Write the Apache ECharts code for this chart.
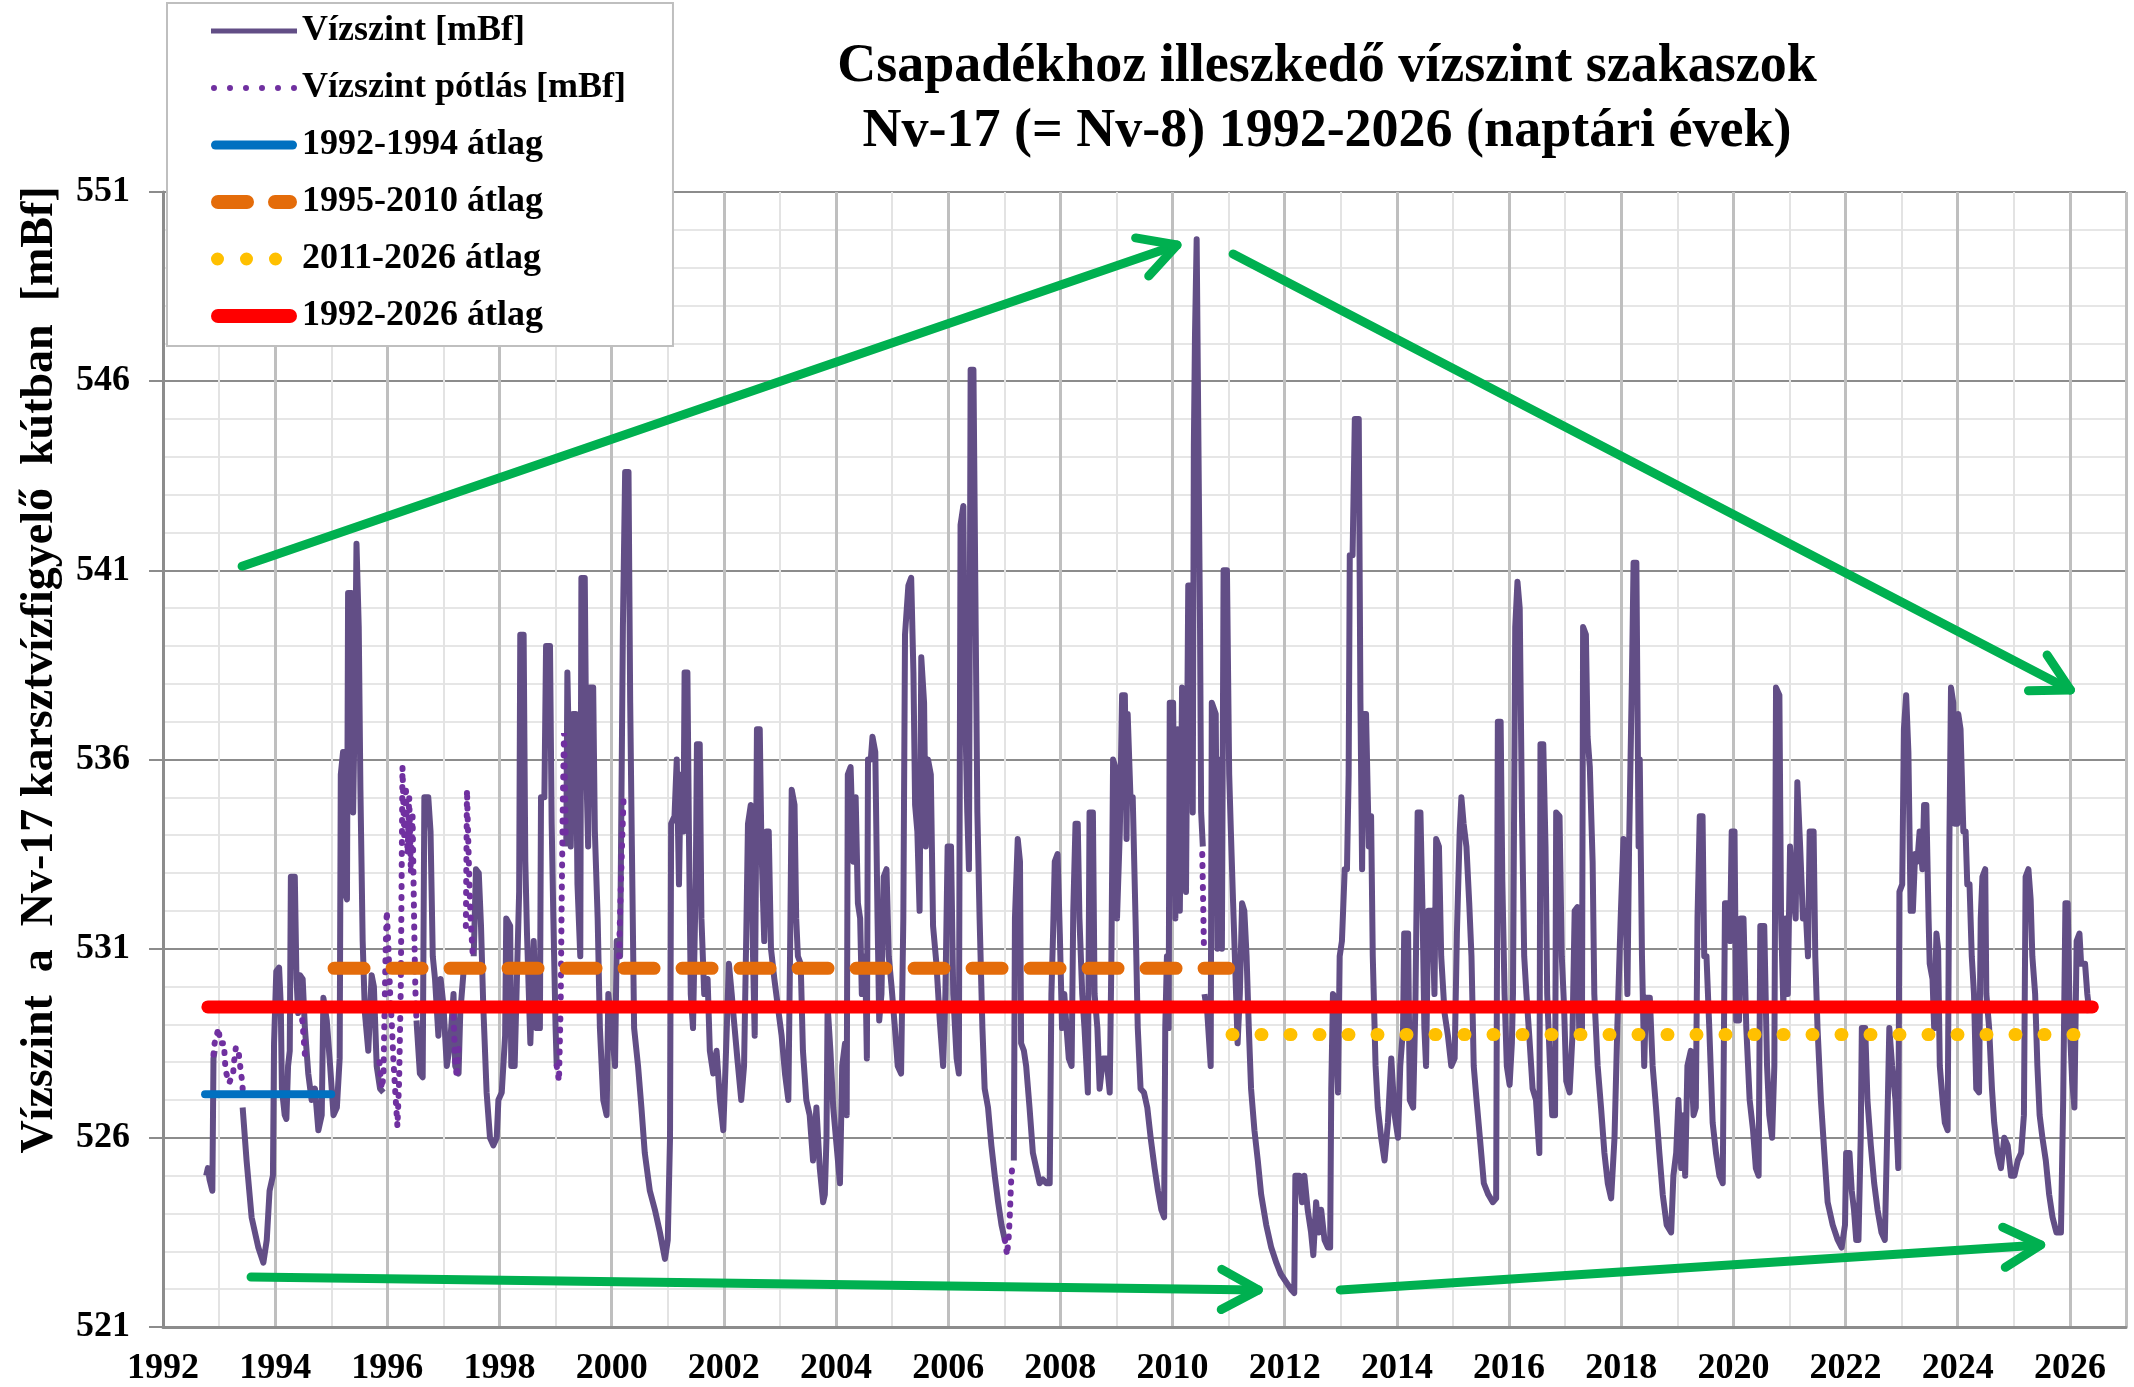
<!DOCTYPE html>
<html>
<head>
<meta charset="utf-8">
<title>Nv-17 vízszint</title>
<script src="https://cdn.jsdelivr.net/npm/echarts@6/dist/echarts.min.js"></script>
<style>
  html, body { margin: 0; padding: 0; background: #fff; }
  #chart { width: 2134px; height: 1387px; }
</style>
</head>
<body>
<div id="chart"></div>
<script>
// mért vízszint [év, mBf] -- '-' = szakadás (ott a pótlás van)
var vizszint = [
  [1992.77, 525.0], [1992.80, 525.2], [1992.83, 524.9], [1992.88, 524.6], [1992.90, 528.1], [1992.92, 528.3], [1992.95, '-'],
  [1993.42, 526.8], [1993.49, 525.4], [1993.58, 523.9], [1993.70, 523.1], [1993.79, 522.7], [1993.85, 523.3], [1993.90, 524.6],
  [1993.96, 525.0], [1993.98, 528.5], [1994.02, 530.4], [1994.07, 530.5], [1994.10, 529.5], [1994.12, 527.3], [1994.17, 526.6],
  [1994.20, 526.5], [1994.23, 527.9], [1994.26, 528.3], [1994.28, 532.9], [1994.35, 532.9], [1994.38, 530.2], [1994.41, 529.3],
  [1994.44, 530.3], [1994.49, 530.2], [1994.53, 528.9], [1994.59, 527.7], [1994.65, 527.0], [1994.71, 527.3], [1994.77, 526.2],
  [1994.83, 526.6], [1994.86, 529.7], [1994.92, 529.1], [1994.98, 527.9], [1995.04, 526.6], [1995.10, 526.8], [1995.15, 528.1],
  [1995.17, 535.6], [1995.21, 536.2], [1995.24, 532.5], [1995.28, 532.3], [1995.30, 540.4], [1995.36, 540.4], [1995.39, 534.6],
  [1995.42, 537.5], [1995.45, 541.7], [1995.49, 539.5], [1995.52, 535.2], [1995.56, 531.2], [1995.60, 529.3], [1995.66, 528.3],
  [1995.72, 530.3], [1995.76, 530.0], [1995.81, 527.9], [1995.87, 527.3], [1995.93, 527.2], [1995.95, '-'],
  [1996.52, 529.1], [1996.58, 527.7], [1996.63, 527.6], [1996.66, 535.0], [1996.73, 535.0], [1996.77, 534.1], [1996.81, 530.8],
  [1996.85, 530.2], [1996.91, 528.7], [1996.95, 530.2], [1997.00, 529.5], [1997.06, 527.9], [1997.12, 528.5], [1997.18, 529.8],
  [1997.21, 527.9], [1997.27, 527.7], [1997.30, 529.3], [1997.37, 530.6], [1997.40, '-'],
  [1997.54, 530.8], [1997.58, 533.1], [1997.63, 533.0], [1997.67, 531.6], [1997.71, 529.5], [1997.77, 527.2], [1997.83, 526.0],
  [1997.89, 525.8], [1997.95, 526.0], [1997.98, 527.0], [1998.04, 527.2], [1998.10, 528.7], [1998.12, 531.8], [1998.19, 531.6],
  [1998.21, 527.9], [1998.27, 527.9], [1998.31, 530.2], [1998.35, 532.5], [1998.37, 539.3], [1998.43, 539.3], [1998.46, 533.3],
  [1998.49, 531.4], [1998.55, 528.5], [1998.61, 531.2], [1998.66, 528.9], [1998.72, 528.9], [1998.74, 535.0], [1998.80, 535.0],
  [1998.83, 539.0], [1998.90, 539.0], [1998.93, 534.3], [1998.96, 531.8], [1999.00, 528.9], [1999.02, 527.9], [1999.05, '-'],
  [1999.19, 533.7], [1999.21, 538.3], [1999.24, 538.3], [1999.27, 533.7], [1999.31, 537.2], [1999.36, 537.2], [1999.39, 532.7],
  [1999.44, 530.8], [1999.46, 540.8], [1999.52, 540.8], [1999.55, 535.6], [1999.58, 533.7], [1999.61, 537.9], [1999.67, 537.9],
  [1999.70, 534.1], [1999.75, 531.8], [1999.79, 528.9], [1999.85, 527.0], [1999.91, 526.6], [1999.94, 529.8], [2000.00, 528.9],
  [2000.06, 527.9], [2000.09, 531.2], [2000.15, 530.8], [2000.20, 539.5], [2000.24, 543.6], [2000.30, 543.6], [2000.33, 537.5],
  [2000.36, 533.7], [2000.40, 528.9], [2000.47, 527.9], [2000.53, 526.8], [2000.59, 525.6], [2000.68, 524.6], [2000.77, 524.1],
  [2000.86, 523.5], [2000.95, 522.8], [2001.00, 523.3], [2001.04, 526.0], [2001.06, 534.3], [2001.12, 534.5], [2001.16, 536.0],
  [2001.20, 532.7], [2001.23, 535.6], [2001.28, 534.1], [2001.30, 538.3], [2001.35, 538.3], [2001.38, 533.7], [2001.41, 529.8],
  [2001.45, 528.9], [2001.50, 532.9], [2001.52, 536.4], [2001.57, 536.4], [2001.60, 531.8], [2001.65, 529.8], [2001.71, 530.2],
  [2001.75, 528.3], [2001.81, 527.7], [2001.87, 528.3], [2001.93, 527.0], [2001.99, 526.2], [2002.03, 527.9], [2002.09, 530.6],
  [2002.14, 529.8], [2002.18, 529.1], [2002.24, 528.1], [2002.31, 527.0], [2002.36, 527.9], [2002.40, 531.4], [2002.43, 534.3],
  [2002.48, 534.8], [2002.52, 530.8], [2002.55, 528.7], [2002.59, 536.8], [2002.64, 536.8], [2002.67, 533.7], [2002.72, 531.2],
  [2002.76, 534.1], [2002.80, 534.1], [2002.84, 531.0], [2002.90, 530.2], [2002.96, 529.5], [2003.03, 528.7], [2003.09, 527.7],
  [2003.15, 527.0], [2003.18, 530.8], [2003.21, 535.2], [2003.26, 534.8], [2003.29, 531.8], [2003.32, 530.8], [2003.37, 530.6],
  [2003.41, 528.3], [2003.47, 527.0], [2003.53, 526.6], [2003.59, 525.4], [2003.65, 526.8], [2003.71, 525.2], [2003.77, 524.3],
  [2003.80, 524.5], [2003.83, 526.0], [2003.85, 529.5], [2003.90, 528.3], [2003.95, 526.8], [2004.01, 525.8], [2004.07, 524.8],
  [2004.11, 527.9], [2004.16, 528.5], [2004.19, 526.6], [2004.21, 535.6], [2004.26, 535.8], [2004.31, 533.3], [2004.35, 535.0],
  [2004.39, 532.2], [2004.43, 531.8], [2004.46, 529.8], [2004.52, 530.8], [2004.55, 528.1], [2004.57, 536.0], [2004.62, 536.0],
  [2004.65, 536.6], [2004.70, 536.2], [2004.74, 531.8], [2004.77, 529.1], [2004.81, 529.8], [2004.85, 532.9], [2004.90, 533.1],
  [2004.94, 530.8], [2004.99, 530.0], [2005.05, 528.9], [2005.10, 527.9], [2005.16, 527.7], [2005.20, 531.8], [2005.23, 539.3],
  [2005.29, 540.6], [2005.34, 540.8], [2005.38, 538.3], [2005.41, 534.8], [2005.45, 534.1], [2005.49, 532.0], [2005.52, 538.7],
  [2005.57, 537.5], [2005.60, 533.7], [2005.64, 536.0], [2005.69, 535.6], [2005.73, 531.6], [2005.79, 530.6], [2005.85, 529.1],
  [2005.91, 527.9], [2005.95, 529.8], [2005.99, 533.7], [2006.05, 533.7], [2006.09, 529.8], [2006.15, 528.1], [2006.19, 527.7],
  [2006.22, 542.2], [2006.27, 542.7], [2006.30, 537.5], [2006.34, 534.6], [2006.37, 533.1], [2006.40, 546.3], [2006.45, 546.3],
  [2006.49, 539.5], [2006.52, 534.6], [2006.56, 531.8], [2006.61, 528.9], [2006.65, 527.3], [2006.71, 526.8], [2006.77, 525.8],
  [2006.83, 525.0], [2006.89, 524.3], [2006.95, 523.7], [2007.01, 523.3], [2007.05, '-'],
  [2007.17, 525.4], [2007.19, 531.8], [2007.24, 533.9], [2007.28, 533.3], [2007.30, 528.5], [2007.35, 528.3], [2007.39, 527.9],
  [2007.45, 526.8], [2007.51, 525.6], [2007.57, 525.2], [2007.63, 524.8], [2007.69, 524.9], [2007.75, 524.8], [2007.81, 524.8],
  [2007.84, 529.8], [2007.87, 531.4], [2007.90, 533.3], [2007.95, 533.5], [2007.99, 531.4], [2008.03, 528.9], [2008.07, 529.8],
  [2008.11, 528.9], [2008.15, 528.1], [2008.20, 527.9], [2008.23, 532.0], [2008.27, 534.3], [2008.31, 534.3], [2008.34, 531.8],
  [2008.39, 529.8], [2008.43, 528.9], [2008.49, 527.2], [2008.52, 534.6], [2008.58, 534.6], [2008.61, 529.8], [2008.66, 528.9],
  [2008.70, 527.3], [2008.76, 528.1], [2008.82, 528.1], [2008.88, 527.2], [2008.91, 530.8], [2008.94, 536.0], [2008.98, 535.8],
  [2009.01, 531.8], [2009.06, 534.1], [2009.10, 537.7], [2009.15, 537.7], [2009.18, 533.9], [2009.20, 537.2], [2009.25, 535.0],
  [2009.29, 535.0], [2009.34, 531.8], [2009.38, 528.9], [2009.43, 527.3], [2009.49, 527.2], [2009.55, 526.8], [2009.61, 526.0],
  [2009.68, 525.2], [2009.74, 524.6], [2009.80, 524.1], [2009.85, 523.9], [2009.87, 528.9], [2009.90, 530.8], [2009.93, 528.9],
  [2009.95, 537.5], [2010.01, 537.5], [2010.05, 531.8], [2010.09, 536.8], [2010.13, 532.0], [2010.17, 537.9], [2010.21, 537.5],
  [2010.24, 532.5], [2010.28, 540.6], [2010.33, 540.6], [2010.36, 534.6], [2010.38, 544.3], [2010.40, 547.2], [2010.43, 549.75],
  [2010.46, 549.75], [2010.49, 539.5], [2010.51, 534.6], [2010.54, 533.7], [2010.55, '-'],
  [2010.57, 529.8], [2010.62, 529.3], [2010.68, 527.9], [2010.70, 537.5], [2010.77, 537.2], [2010.80, 531.0], [2010.85, 536.0],
  [2010.88, 531.0], [2010.91, 541.0], [2010.97, 541.0], [2011.01, 535.6], [2011.04, 534.1], [2011.08, 532.2], [2011.12, 530.4],
  [2011.16, 528.5], [2011.20, 529.8], [2011.24, 532.2], [2011.28, 532.0], [2011.32, 530.8], [2011.36, 528.9], [2011.40, 527.3],
  [2011.46, 526.2], [2011.52, 525.4], [2011.58, 524.5], [2011.67, 523.7], [2011.76, 523.1], [2011.85, 522.7], [2011.93, 522.4],
  [2012.02, 522.2], [2012.11, 522.0], [2012.17, 521.9], [2012.19, 525.0], [2012.26, 525.0], [2012.31, 524.3], [2012.35, 525.0],
  [2012.41, 524.1], [2012.47, 523.5], [2012.51, 522.9], [2012.56, 524.3], [2012.61, 523.5], [2012.65, 524.1], [2012.71, 523.3],
  [2012.77, 523.1], [2012.81, 523.1], [2012.83, 527.3], [2012.86, 529.8], [2012.90, 529.7], [2012.95, 527.2], [2012.98, 530.8],
  [2013.02, 531.2], [2013.07, 533.1], [2013.11, 533.1], [2013.14, 535.6], [2013.16, 541.4], [2013.21, 541.4], [2013.25, 545.0],
  [2013.32, 545.0], [2013.35, 537.5], [2013.38, 533.1], [2013.40, 537.2], [2013.45, 537.2], [2013.50, 533.7], [2013.54, 534.5],
  [2013.57, 530.8], [2013.62, 527.9], [2013.66, 526.8], [2013.72, 526.0], [2013.78, 525.4], [2013.84, 526.4], [2013.90, 528.1],
  [2013.96, 526.6], [2014.02, 526.0], [2014.06, 527.9], [2014.11, 528.9], [2014.13, 531.4], [2014.20, 531.4], [2014.23, 527.0],
  [2014.29, 526.8], [2014.33, 529.5], [2014.37, 534.6], [2014.42, 534.6], [2014.46, 531.8], [2014.49, 528.9], [2014.52, 527.9],
  [2014.56, 532.0], [2014.63, 532.0], [2014.67, 529.8], [2014.70, 533.9], [2014.75, 533.7], [2014.79, 530.8], [2014.85, 529.3],
  [2014.91, 528.7], [2014.97, 527.9], [2015.03, 528.1], [2015.07, 531.4], [2015.12, 534.1], [2015.15, 535.0], [2015.19, 534.3],
  [2015.24, 533.7], [2015.29, 532.2], [2015.33, 530.8], [2015.37, 527.9], [2015.42, 527.0], [2015.48, 526.0], [2015.55, 524.8],
  [2015.63, 524.5], [2015.71, 524.3], [2015.77, 524.4], [2015.80, 537.0], [2015.85, 537.0], [2015.88, 532.8], [2015.92, 529.8],
  [2015.96, 527.9], [2016.01, 527.4], [2016.05, 528.5], [2016.07, 529.8], [2016.11, 539.5], [2016.15, 540.7], [2016.19, 540.0],
  [2016.23, 534.6], [2016.27, 530.8], [2016.31, 529.8], [2016.36, 528.7], [2016.42, 527.3], [2016.48, 527.0], [2016.54, 525.6],
  [2016.56, 536.4], [2016.61, 536.4], [2016.65, 533.7], [2016.68, 529.8], [2016.73, 527.9], [2016.77, 526.6], [2016.82, 526.6],
  [2016.84, 534.6], [2016.90, 534.5], [2016.94, 530.8], [2016.98, 529.5], [2017.02, 527.5], [2017.08, 527.2], [2017.13, 528.7],
  [2017.17, 532.0], [2017.22, 532.1], [2017.25, 528.9], [2017.30, 528.9], [2017.32, 539.5], [2017.37, 539.3], [2017.40, 536.6],
  [2017.44, 535.8], [2017.49, 533.3], [2017.52, 529.8], [2017.58, 527.9], [2017.64, 526.8], [2017.70, 525.6], [2017.76, 524.8],
  [2017.82, 524.4], [2017.88, 526.0], [2017.93, 528.9], [2017.99, 531.8], [2018.04, 533.9], [2018.07, 532.7], [2018.11, 529.8],
  [2018.14, 533.7], [2018.19, 538.1], [2018.22, 541.2], [2018.27, 541.2], [2018.31, 533.7], [2018.33, 536.0], [2018.37, 530.8],
  [2018.41, 527.9], [2018.44, 529.7], [2018.51, 529.7], [2018.56, 527.9], [2018.62, 526.8], [2018.68, 525.6], [2018.74, 524.5],
  [2018.81, 523.7], [2018.89, 523.5], [2018.93, 525.0], [2018.98, 525.6], [2019.02, 527.0], [2019.07, 525.2], [2019.11, 526.6],
  [2019.14, 525.0], [2019.18, 527.9], [2019.24, 528.3], [2019.29, 526.6], [2019.33, 526.8], [2019.36, 531.8], [2019.40, 534.5],
  [2019.45, 534.5], [2019.48, 530.8], [2019.52, 530.8], [2019.57, 528.9], [2019.63, 526.4], [2019.69, 525.6], [2019.75, 525.0],
  [2019.81, 524.8], [2019.85, 532.2], [2019.90, 532.2], [2019.94, 531.2], [2019.97, 534.1], [2020.02, 534.1], [2020.05, 529.1],
  [2020.10, 529.1], [2020.13, 531.8], [2020.18, 531.8], [2020.23, 528.9], [2020.29, 527.0], [2020.35, 526.2], [2020.40, 525.2],
  [2020.45, 525.0], [2020.48, 531.6], [2020.55, 531.6], [2020.60, 527.9], [2020.64, 526.6], [2020.69, 526.0], [2020.73, 527.9],
  [2020.76, 537.9], [2020.82, 537.7], [2020.85, 531.8], [2020.89, 529.5], [2020.93, 531.8], [2020.97, 529.8], [2021.01, 533.7],
  [2021.06, 532.5], [2021.11, 531.8], [2021.14, 535.4], [2021.19, 533.7], [2021.24, 531.8], [2021.29, 532.0], [2021.33, 530.8],
  [2021.36, 534.1], [2021.43, 534.1], [2021.46, 530.8], [2021.50, 528.9], [2021.56, 527.0], [2021.63, 525.4], [2021.68, 524.3],
  [2021.77, 523.7], [2021.86, 523.3], [2021.93, 523.1], [2021.99, 523.7], [2022.01, 525.6], [2022.07, 525.6], [2022.11, 524.6],
  [2022.15, 524.1], [2022.19, 523.3], [2022.23, 523.3], [2022.27, 526.0], [2022.29, 528.9], [2022.35, 528.9], [2022.39, 527.0],
  [2022.45, 525.8], [2022.51, 524.8], [2022.57, 524.1], [2022.64, 523.5], [2022.70, 523.3], [2022.74, 526.0], [2022.78, 528.9],
  [2022.83, 527.9], [2022.89, 527.0], [2022.94, 525.2], [2022.96, 532.5], [2023.01, 532.7], [2023.04, 536.8], [2023.08, 537.7],
  [2023.12, 536.2], [2023.16, 532.0], [2023.20, 532.0], [2023.24, 533.5], [2023.28, 533.3], [2023.32, 534.1], [2023.37, 533.1],
  [2023.40, 534.8], [2023.44, 534.8], [2023.48, 531.8], [2023.50, 530.6], [2023.55, 530.2], [2023.58, 528.9], [2023.62, 531.4],
  [2023.65, 531.0], [2023.68, 527.9], [2023.73, 527.0], [2023.77, 526.4], [2023.82, 526.2], [2023.85, 533.7], [2023.88, 537.9],
  [2023.92, 537.5], [2023.95, 534.3], [2023.99, 534.3], [2024.01, 537.2], [2024.05, 536.8], [2024.10, 534.1], [2024.14, 534.1],
  [2024.17, 532.7], [2024.21, 532.7], [2024.25, 530.8], [2024.29, 529.8], [2024.33, 527.3], [2024.38, 527.2], [2024.41, 531.8],
  [2024.44, 532.9], [2024.49, 533.1], [2024.51, 529.8], [2024.56, 528.9], [2024.61, 527.3], [2024.65, 526.4], [2024.71, 525.6],
  [2024.77, 525.2], [2024.83, 526.0], [2024.89, 525.8], [2024.95, 525.0], [2025.01, 525.0], [2025.07, 525.4], [2025.13, 525.6],
  [2025.18, 526.6], [2025.21, 532.9], [2025.26, 533.1], [2025.30, 532.3], [2025.33, 530.8], [2025.38, 529.8], [2025.42, 527.9],
  [2025.46, 526.6], [2025.51, 526.0], [2025.57, 525.4], [2025.63, 524.5], [2025.69, 523.9], [2025.76, 523.5], [2025.84, 523.5],
  [2025.88, 527.0], [2025.92, 532.2], [2025.96, 532.2], [2026.00, 528.9], [2026.04, 527.5], [2026.08, 526.8], [2026.12, 531.2],
  [2026.17, 531.4], [2026.20, 530.6], [2026.27, 530.6], [2026.31, 529.8], [2026.35, 529.3]
];

// pótolt vízszint szakaszok
var potlas = [
  [1992.90, 528.2], [1992.92, 528.5], [1992.99, 528.9], [1993.02, 528.5], [1993.09, 528.5], [1993.10, 528.1], [1993.12, 527.75],
  [1993.18, 527.45], [1993.25, 527.7], [1993.27, 528.05], [1993.30, 528.4], [1993.35, 528.25], [1993.38, 527.85], [1993.41, 527.5],
  [1993.43, 527.1], [1993.44, '-'],
  [1994.46, 529.4], [1994.49, 529.0], [1994.51, 528.6], [1994.53, 528.2], [1994.54, '-'],
  [1995.86, 528.0], [1995.90, 527.3], [1995.93, 527.6], [1995.97, 531.0], [1995.99, 532.0], [1996.02, 531.0], [1996.05, 529.8],
  [1996.08, 529.0], [1996.11, 528.0], [1996.15, 527.0], [1996.18, 526.3], [1996.21, 527.5], [1996.24, 530.0], [1996.27, 535.8],
  [1996.30, 534.0], [1996.33, 535.3], [1996.36, 533.5], [1996.39, 535.0], [1996.42, 533.0], [1996.45, 534.5], [1996.48, 531.5],
  [1996.50, 529.9], [1996.52, 529.1], [1996.53, '-'],
  [1997.18, 529.2], [1997.21, 528.0], [1997.24, 527.6], [1997.27, 528.4], [1997.30, '-'],
  [1997.40, 531.6], [1997.42, 535.2], [1997.44, 534.0], [1997.46, 532.9], [1997.48, 531.9], [1997.52, 530.9], [1997.54, '-'],
  [1999.02, 527.9], [1999.06, 527.5], [1999.09, 529.5], [1999.11, 532.5], [1999.13, 535.0], [1999.15, 536.7], [1999.18, 534.0],
  [1999.19, '-'],
  [2000.13, 530.8], [2000.16, 532.5], [2000.19, 534.0], [2000.21, 534.9], [2000.22, '-'],
  [2007.01, 523.3], [2007.05, 522.9], [2007.08, 523.4], [2007.10, 524.0], [2007.12, 524.8], [2007.14, 525.2], [2007.15, '-'],
  [2010.53, 533.5], [2010.545, 532.3], [2010.56, 531.0]
];

// időszaki átlagok
var atlag1992_1994 = [[1992.75, 527.15], [1995.0, 527.15]];
var atlag1995_2010 = [[1995.05, 530.48], [2011.0, 530.48]];
var atlag2011_2026 = [[2011.06, 528.73], [2026.10, 528.73]];
var atlag1992_2026 = [[1992.8, 529.46], [2026.4, 529.46]];

// zöld nyilak (honnan -> hová)
var nyilFrom = [[1993.41, 541.11], [2011.08, 549.36], [1993.57, 522.32], [2012.99, 521.98]];
var nyilTo = [[2010.08, 549.6], [2026.01, 537.84], [2011.53, 521.98], [2025.48, 523.17]];

var legendNames = ['Vízszint [mBf]', 'Vízszint pótlás [mBf]', '1992-1994 átlag', '1995-2010 átlag', '2011-2026 átlag', '1992-2026 átlag'];

// jelmagyarázat ikonok (86 px szélesek)
var legendIcons = [
  'path://M0,0H86V5H0Z',
  'path://M0,3a3,3 0 1,0 6,0a3,3 0 1,0 -6,0ZM16,3a3,3 0 1,0 6,0a3,3 0 1,0 -6,0ZM32,3a3,3 0 1,0 6,0a3,3 0 1,0 -6,0ZM48,3a3,3 0 1,0 6,0a3,3 0 1,0 -6,0ZM64,3a3,3 0 1,0 6,0a3,3 0 1,0 -6,0ZM80,3a3,3 0 1,0 6,0a3,3 0 1,0 -6,0Z',
  'path://M4.5,0H81.5A4.5,4.5 0 0 1 81.5,9H4.5A4.5,4.5 0 0 1 4.5,0Z',
  'path://M7,0H36A7,7 0 0 1 36,14H7A7,7 0 0 1 7,0ZM64,0H79A7,7 0 0 1 79,14H64A7,7 0 0 1 64,0Z',
  'path://M0,6.5a6.5,6.5 0 1,0 13,0a6.5,6.5 0 1,0 -13,0ZM29,6.5a6.5,6.5 0 1,0 13,0a6.5,6.5 0 1,0 -13,0ZM58,6.5a6.5,6.5 0 1,0 13,0a6.5,6.5 0 1,0 -13,0ZM86,6.5L86,6.5Z',
  'path://M7,0H79A7,7 0 0 1 79,14H7A7,7 0 0 1 7,0Z'
];

var FONT = 'Liberation Serif';
var myChart = echarts.init(document.getElementById('chart'));

var option = {
  animation: false,
  backgroundColor: '#fff',
  textStyle: { fontFamily: FONT },
  graphic: [
    { type: 'text', x: 1327, y: 67, style: { text: 'Csapadékhoz illeszkedő vízszint szakaszok', font: 'bold 54px "Liberation Serif"', fill: '#000', align: 'center', verticalAlign: 'middle' } },
    { type: 'text', x: 1327, y: 132, style: { text: 'Nv-17 (= Nv-8) 1992-2026 (naptári évek)', font: 'bold 54px "Liberation Serif"', fill: '#000', align: 'center', verticalAlign: 'middle' } },
    { type: 'text', x: 40, y: 670, rotation: Math.PI / 2, style: { text: 'Vízszint  a  Nv-17 karsztvízfigyelő  kútban  [mBf]', font: 'bold 46px "Liberation Serif"', fill: '#000', align: 'center', verticalAlign: 'middle' } }
  ],
  legend: {
    data: legendNames.map(function (n, i) { return { name: n, icon: legendIcons[i] }; }),
    orient: 'vertical',
    left: 167,
    top: 3,
    padding: [10, 47, 12, 44],
    itemWidth: 86,
    itemHeight: 30,
    itemGap: 21,
    symbolKeepAspect: true,
    selectedMode: false,
    backgroundColor: '#fff',
    borderColor: '#BFBFBF',
    borderWidth: 2,
    textStyle: { fontFamily: FONT, fontSize: 36, fontWeight: 'bold', color: '#000' },
    z: 10
  },
  grid: { left: 163, right: 8, top: 192, bottom: 59 },
  xAxis: {
    type: 'value',
    min: 1992,
    max: 2027,
    interval: 2,
    axisLine: { show: true, onZero: false, lineStyle: { color: '#8C8C8C', width: 3 } },
    axisTick: { show: false },
    axisLabel: { fontFamily: FONT, fontSize: 36, fontWeight: 'bold', color: '#000', margin: 24, showMaxLabel: false, formatter: function (v) { return String(v); } },
    splitLine: { show: true, lineStyle: { color: '#BFBFBF', width: 3 } },
    minorTick: { show: false, splitNumber: 2 },
    minorSplitLine: { show: true, lineStyle: { color: '#E3E3E3', width: 2 } }
  },
  yAxis: {
    type: 'value',
    min: 521,
    max: 551,
    interval: 5,
    axisLine: { show: true, lineStyle: { color: '#8C8C8C', width: 3 } },
    axisTick: { show: true, length: 14, lineStyle: { color: '#8C8C8C', width: 2 } },
    axisLabel: { fontFamily: FONT, fontSize: 36, fontWeight: 'bold', color: '#000', margin: 33 },
    splitLine: { show: true, lineStyle: { color: '#8C8C8C', width: 2 } },
    minorTick: { show: false, splitNumber: 5 },
    minorSplitLine: { show: true, lineStyle: { color: '#DEDEDE', width: 1.5 } }
  },
  series: [
    {
      name: 'Vízszint [mBf]', type: 'line', data: vizszint, symbol: 'none', connectNulls: false, z: 2,
      lineStyle: { color: '#624E86', width: 6, join: 'round' }, itemStyle: { color: '#624E86' }
    },
    {
      name: 'Vízszint pótlás [mBf]', type: 'line', data: potlas, symbol: 'none', connectNulls: false, z: 3,
      lineStyle: { color: '#7030A0', width: 6, type: [1, 10], cap: 'round' }, itemStyle: { color: '#7030A0' }
    },
    {
      name: '1992-1994 átlag', type: 'line', data: atlag1992_1994, symbol: 'none', z: 4,
      lineStyle: { color: '#0070C0', width: 8, cap: 'round' }, itemStyle: { color: '#0070C0' }
    },
    {
      name: '1995-2010 átlag', type: 'line', data: atlag1995_2010, symbol: 'none', z: 4,
      lineStyle: { color: '#E46C0A', width: 13, type: [30, 28], cap: 'round' }, itemStyle: { color: '#E46C0A' }
    },
    {
      name: '2011-2026 átlag', type: 'line', data: atlag2011_2026, symbol: 'none', z: 4,
      lineStyle: { color: '#FFC000', width: 13, type: [1, 28], cap: 'round' }, itemStyle: { color: '#FFC000' }
    },
    {
      name: '1992-2026 átlag', type: 'line', data: atlag1992_2026, symbol: 'none', z: 5,
      lineStyle: { color: '#FF0000', width: 13, cap: 'round' }, itemStyle: { color: '#FF0000' }
    },
    {
      name: 'nyilak', type: 'custom', z: 6, clip: false,
      data: nyilFrom.map(function (a, i) { return [a[0], a[1], nyilTo[i][0], nyilTo[i][1]]; }),
      encode: { x: [0, 2], y: [1, 3] },
      renderItem: function (params, api) {
        var p1 = api.coord([api.value(0), api.value(1)]);
        var p2 = api.coord([api.value(2), api.value(3)]);
        var ang = Math.atan2(p2[1] - p1[1], p2[0] - p1[0]);
        var len = 42, spread = 0.5;
        var a1 = [p2[0] - len * Math.cos(ang - spread), p2[1] - len * Math.sin(ang - spread)];
        var a2 = [p2[0] - len * Math.cos(ang + spread), p2[1] - len * Math.sin(ang + spread)];
        var st = { stroke: '#00B050', lineWidth: 9, fill: null, lineCap: 'round', lineJoin: 'round' };
        return {
          type: 'group',
          children: [
            { type: 'polyline', shape: { points: [p1, p2] }, style: st },
            { type: 'polyline', shape: { points: [a1, p2, a2] }, style: st }
          ]
        };
      }
    }
  ]
};

myChart.setOption(option);
</script>
</body>
</html>
